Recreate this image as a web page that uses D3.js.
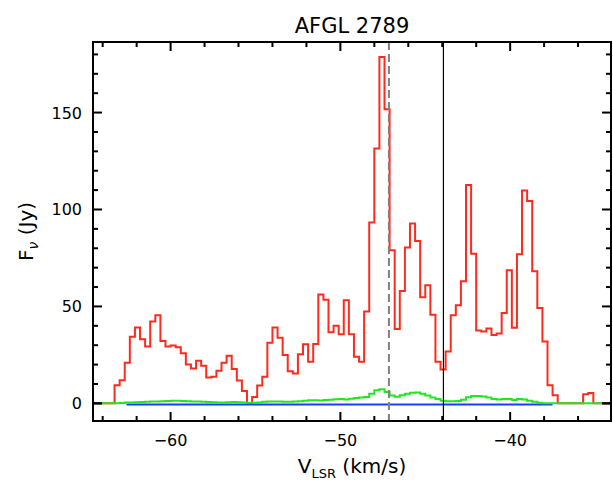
<!DOCTYPE html>
<html>
<head>
<meta charset="utf-8">
<script src="https://cdn.jsdelivr.net/npm/d3@7/dist/d3.min.js"></script>
<style>
  html, body { margin: 0; padding: 0; background: #fff; }
  svg { display: block; }
  text { font-family: "DejaVu Sans", "Liberation Sans", sans-serif; fill: #000; }
</style>
</head>
<body>
<script>
// Spectrum of AFGL 2789: flux density per velocity channel (0.3 km/s channels)
const chanWidth = 0.3;
const velocity = [
  -64.35, -64.05, -63.75, -63.45, -63.15, -62.85, -62.55, -62.25, -61.95, -61.65,
  -61.35, -61.05, -60.75, -60.45, -60.15, -59.85, -59.55, -59.25, -58.95, -58.65,
  -58.35, -58.05, -57.75, -57.45, -57.15, -56.85, -56.55, -56.25, -55.95, -55.65,
  -55.35, -55.05, -54.75, -54.45, -54.15, -53.85, -53.55, -53.25, -52.95, -52.65,
  -52.35, -52.05, -51.75, -51.45, -51.15, -50.85, -50.55, -50.25, -49.95, -49.65,
  -49.35, -49.05, -48.75, -48.45, -48.15, -47.85, -47.55, -47.25, -46.95, -46.65,
  -46.35, -46.05, -45.75, -45.45, -45.15, -44.85, -44.55, -44.25, -43.95, -43.65,
  -43.35, -43.05, -42.75, -42.45, -42.15, -41.85, -41.55, -41.25, -40.95, -40.65,
  -40.35, -40.05, -39.75, -39.45, -39.15, -38.85, -38.55, -38.25, -37.95, -37.65,
  -37.35, -37.05, -36.75, -36.45, -36.15, -35.85, -35.55, -35.25, -34.95, -34.65,
  -34.35, -34.05
];
const fluxRed = [
  0, 0, 0, 0, 9.4, 11.9, 20.9, 34.4, 39.1, 33.1,
  29.3, 42.2, 45.4, 32.2, 29.3, 29.8, 28.9, 25.8, 20.1, 18.0,
  22.0, 19.4, 13.3, 13.7, 16.8, 20.9, 24.6, 17.7, 11.8, 6.4,
  0, 3.3, 9.2, 13.7, 31.3, 39.1, 33.9, 24.9, 16.6, 15.4,
  25.3, 30.5, 21.5, 30.6, 56.1, 53.5, 36.7, 40.0, 35.7, 53.2,
  35.7, 24.1, 21.5, 47.4, 93.3, 131.4, 178.7, 151.7, 79.0, 38.4,
  58.0, 80.4, 92.8, 83.8, 54.7, 60.9, 45.7, 21.5, 17.5, 26.7,
  45.4, 50.6, 63.0, 112.7, 77.2, 37.6, 37.1, 38.6, 35.3, 36.0,
  46.6, 68.7, 39.0, 76.9, 109.8, 104.4, 68.2, 49.2, 31.9, 9.4,
  4.2, 0, 0, 0, 0, 0, 4.7, 5.4, 0, 0,
  0, 0
];
const fluxGreen = [
  0, 0, 0, 0, 0, 0.2, 0.4, 0.5, 0.6, 0.7,
  0.8, 0.9, 1.0, 1.1, 1.2, 1.3, 1.3, 1.2, 1.1, 1.0,
  0.9, 0.8, 0.7, 0.6, 0.5, 0.5, 0.6, 0.7, 0.6, 0.4,
  0.3, 0.3, 0.5, 0.8, 1.0, 1.0, 0.9, 0.8, 0.8, 0.9,
  1.1, 1.4, 1.6, 1.6, 1.5, 1.7, 1.9, 2.1, 2.3, 2.0,
  2.4, 2.8, 3.0, 3.3, 5.0, 6.7, 7.3, 5.8, 4.0, 3.4,
  4.2, 5.0, 5.5, 5.6, 5.0, 4.0, 3.0, 2.2, 1.4, 1.1,
  1.1, 1.2, 1.8, 3.2, 3.8, 3.8, 3.6, 3.0, 2.2, 2.0,
  2.3, 2.3, 1.7, 2.2, 2.0, 1.4, 0.8, 0.3, 0, 0,
  0, 0, 0, 0, 0, 0, 0, 0, 0, 0,
  0, 0
];
// Baseline (blue) spans a limited velocity range
const blueRange = [-62.6, -37.5];
const blueLevel = -0.6;
// Reference velocities marked by vertical lines
const vDashed = -47.14;
const vSolid = -43.93;

const xMajor = [-60, -50, -40];
const xMinor = [-64, -62, -58, -56, -54, -52, -48, -46, -44, -42, -38, -36];
const yMajor = [0, 50, 100, 150];
const yMinor = [-0, 10, 20, 30, 40, 60, 70, 80, 90, 110, 120, 130, 140, 160, 170, 180];

const W = 613, H = 483;
const L = 93, R = 611, T = 42, B = 421;

const svg = d3.select("body").append("svg").attr("width", W).attr("height", H);

const x = d3.scaleLinear().domain([-64.57, -34.06]).range([L, R]);
const y = d3.scaleLinear().domain([-9.1, 186.4]).range([B, T]);

svg.append("clipPath").attr("id", "plot")
  .append("rect").attr("x", L).attr("y", T).attr("width", R - L).attr("height", B - T);

const g = svg.append("g").attr("clip-path", "url(#plot)");

// Channel edges for a histogram-style step trace
function stepPoints(values) {
  const pts = velocity.map((v, i) => [v - chanWidth / 2, values[i]]);
  pts.push([velocity[velocity.length - 1] + chanWidth / 2, values[values.length - 1]]);
  return pts;
}
const stepLine = d3.line().x(d => x(d[0])).y(d => y(d[1])).curve(d3.curveStepAfter);

g.append("path").attr("d", stepLine(stepPoints(fluxRed)))
  .attr("fill", "none").attr("stroke", "#ff2a1e").attr("stroke-width", 2);

g.append("path").attr("d", d3.line().x(d => x(d[0])).y(d => y(d[1]))(blueRange.map(v => [v, blueLevel])))
  .attr("fill", "none").attr("stroke", "#1a3cff").attr("stroke-width", 2);

g.append("path").attr("d", stepLine(stepPoints(fluxGreen)))
  .attr("fill", "none").attr("stroke", "#22e622").attr("stroke-width", 2);

g.append("line").attr("x1", x(vDashed)).attr("x2", x(vDashed)).attr("y1", T).attr("y2", B)
  .attr("stroke", "#808080").attr("stroke-width", 2).attr("stroke-dasharray", "8,4");
g.append("line").attr("x1", x(vSolid)).attr("x2", x(vSolid)).attr("y1", T).attr("y2", B)
  .attr("stroke", "#000").attr("stroke-width", 1.2);

// Frame with inward ticks on all four sides
const axes = svg.append("g").attr("stroke", "#000").attr("stroke-width", 2);
const majLen = 9, minLen = 5;
xMajor.concat(xMinor).forEach(v => {
  const len = xMajor.includes(v) ? majLen : minLen;
  axes.append("line").attr("x1", x(v)).attr("x2", x(v)).attr("y1", B).attr("y2", B - len);
  axes.append("line").attr("x1", x(v)).attr("x2", x(v)).attr("y1", T).attr("y2", T + len);
});
yMajor.concat(yMinor).forEach(v => {
  const len = yMajor.includes(v) ? majLen : minLen;
  axes.append("line").attr("x1", L).attr("x2", L + len).attr("y1", y(v)).attr("y2", y(v));
  axes.append("line").attr("x1", R).attr("x2", R - len).attr("y1", y(v)).attr("y2", y(v));
});
axes.append("rect").attr("x", L).attr("y", T).attr("width", R - L).attr("height", B - T)
  .attr("fill", "none");

// Tick labels
xMajor.forEach(v => {
  svg.append("text").attr("x", x(v)).attr("y", 446).attr("text-anchor", "middle")
    .attr("font-size", 16).text("\u2212" + Math.abs(v));
});
yMajor.forEach(v => {
  svg.append("text").attr("x", 82).attr("y", y(v) + 6).attr("text-anchor", "end")
    .attr("font-size", 16).text(v);
});

// Title and axis titles
svg.append("text").attr("x", (L + R) / 2).attr("y", 33).attr("text-anchor", "middle")
  .attr("font-size", 21).text("AFGL 2789");

const xl = svg.append("text").attr("x", (L + R) / 2).attr("y", 473).attr("text-anchor", "middle")
  .attr("font-size", 20);
xl.append("tspan").text("V");
xl.append("tspan").attr("font-size", 13).attr("dy", 5).text("LSR");
xl.append("tspan").attr("dy", -5).text(" (km/s)");

const yl = svg.append("text").attr("transform", `translate(33, ${(T + B) / 2}) rotate(-90)`)
  .attr("text-anchor", "middle").attr("font-size", 20);
yl.append("tspan").text("F");
yl.append("tspan").attr("font-size", 14).attr("dy", 5).attr("font-style", "italic").text("\u03bd");
yl.append("tspan").attr("dy", -5).text(" (Jy)");
</script>
</body>
</html>
